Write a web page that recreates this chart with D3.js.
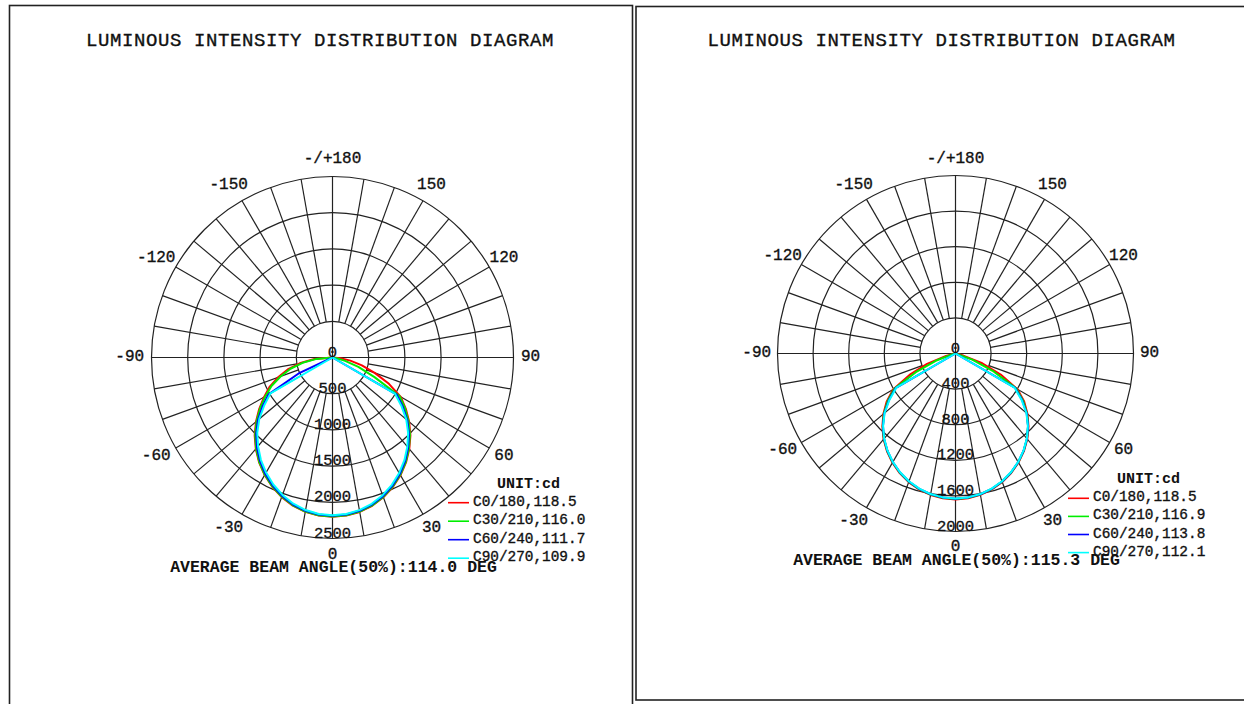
<!DOCTYPE html>
<html><head><meta charset="utf-8">
<script src="https://cdn.jsdelivr.net/npm/d3@7"></script>
<style>html,body{margin:0;padding:0;background:#fff;}svg{display:block;}</style>
</head><body>
<svg id="chart" width="1244" height="704"></svg>
<script>
// ---------- data ----------
const gammaAngles = [0,5,10,15,20,25,30,35,40,45,50,55,60,65,70,75,80,85,90];
const seriesNames = ["C0/180","C30/210","C60/240","C90/270"];
const seriesColors = ["#ff0000","#00ee00","#0000ff","#00ffff"];
const angleTickValues = [180,150,120,90,60,30,0,-30,-60,-90,-120,-150];
const angleTickLabels = ["-/+180","150","120","90","60","30","0","-30","-60","-90","-120","-150"];
const titleText = "LUMINOUS INTENSITY DISTRIBUTION DIAGRAM";
const unitText = "UNIT:cd";

// left diagram
const leftRings = [500,1000,1500,2000,2500];
const leftRingLabels = ["0","500","1000","1500","2000","2500"];
const leftBeamAngles = ["118.5","116.0","111.7","109.9"];
const leftAverage = "114.0";
const left_C0   = [2200,2192,2166,2120,2055,1973,1878,1770,1650,1522,1382,1236,1088,860,620,420,250,110,0];
const left_C180 = [2200,2192,2165,2118,2052,1970,1875,1768,1648,1520,1380,1235,1090,960,800,640,460,250,0];
const left_C30  = [2195,2188,2160,2114,2049,1967,1871,1763,1642,1512,1370,1222,1072,640,380,180,60,0,0];
const left_C210 = [2195,2187,2160,2113,2047,1965,1870,1762,1640,1510,1368,1220,1070,930,760,600,420,220,0];
const left_C60  = [2185,2177,2150,2103,2037,1955,1858,1748,1625,1493,1349,1186,1025,0,0,0,0,0,0];
const left_C240 = [2185,2177,2150,2102,2035,1952,1855,1745,1622,1490,1345,1180,1020,500,0,0,0,0,0];
const left_C90  = [2180,2170,2141,2092,2024,1940,1842,1732,1608,1478,1330,1160,995,0,0,0,0,0,0];
const left_C270 = [2180,2170,2140,2090,2020,1935,1835,1725,1600,1470,1320,1150,990,0,0,0,0,0,0];

// right diagram
const rightRings = [400,800,1200,1600,2000];
const rightRingLabels = ["0","400","800","1200","1600","2000"];
const rightBeamAngles = ["118.5","116.9","113.8","112.1"];
const rightAverage = "115.3";
const right_C0   = [1640,1633,1613,1581,1537,1481,1415,1340,1255,1160,1055,942,805,560,320,90,0,0,0];
const right_C180 = [1640,1633,1614,1582,1538,1483,1417,1342,1257,1162,1058,945,810,570,340,110,0,0,0];
const right_C30  = [1635,1628,1608,1576,1532,1477,1411,1336,1250,1154,1048,928,790,460,200,0,0,0,0];
const right_C210 = [1635,1628,1609,1577,1533,1478,1412,1337,1252,1156,1050,930,795,480,220,40,0,0,0];
const right_C60  = [1632,1625,1606,1574,1530,1475,1409,1334,1249,1153,1044,915,775,0,0,0,0,0,0];
const right_C240 = [1632,1625,1606,1574,1530,1475,1409,1334,1249,1153,1044,915,778,0,0,0,0,0,0];
const right_C90  = [1630,1623,1604,1572,1528,1473,1407,1332,1247,1150,1040,905,765,0,0,0,0,0,0];
const right_C270 = [1630,1623,1604,1572,1528,1473,1407,1332,1247,1150,1040,905,768,0,0,0,0,0,0];

// ---------- drawing ----------
const svg = d3.select("#chart");
const FONT = "'Liberation Mono','Courier New',monospace";
const rad = d => d * Math.PI / 180;
const heavy = sel => sel.attr("stroke","#111").attr("stroke-width",0.35);

// frames
svg.append("rect").attr("x",9.5).attr("y",5.5).attr("width",623).attr("height",720)
  .attr("fill","none").attr("stroke","#222").attr("stroke-width",1.6);
svg.append("rect").attr("x",636).attr("y",6.5).attr("width",640).attr("height",693.5)
  .attr("fill","none").attr("stroke","#222").attr("stroke-width",1.6);

function drawDiagram(cfg) {
  const g = svg.append("g").attr("transform", `translate(${cfg.cx},${cfg.cy})`);
  const maxV = cfg.rings[cfg.rings.length - 1];
  const r = d3.scaleLinear().domain([0, maxV]).range([0, cfg.R]);
  const px = (a, rr) => rr * Math.sin(a), py = (a, rr) => -rr * Math.cos(a);

  // title
  svg.append("text").attr("x", cfg.titleX).attr("y", cfg.titleY)
    .attr("text-anchor","middle").attr("dominant-baseline","central")
    .attr("font-family",FONT).attr("font-size",19).attr("letter-spacing",0.6)
    .attr("fill","#111").call(heavy).text(titleText);

  const grid = g.append("g").attr("fill","none").attr("stroke","#222").attr("stroke-width",1.2);
  // rings
  cfg.rings.forEach(v => grid.append("circle").attr("r", r(v)));
  // spokes every 10 degrees
  const spokeAngles = d3.range(0, 360, 10);
  spokeAngles.forEach(d => {
    const a = rad(d);
    const r0 = (d % 90 === 0) ? 0 : r(cfg.rings[0]);
    grid.append("line").attr("x1", px(a, r0)).attr("y1", py(a, r0))
      .attr("x2", px(a, cfg.R)).attr("y2", py(a, cfg.R));
  });

  // curves
  const line = d3.lineRadial().angle(d => d.a).radius(d => r(d.v)).curve(d3.curveLinear);
  cfg.series.forEach((s, i) => {
    const pts = [];
    for (let k = gammaAngles.length - 1; k >= 0; k--) pts.push({a: Math.PI + rad(gammaAngles[k]), v: s.left[k]});
    for (let k = 0; k < gammaAngles.length; k++) pts.push({a: Math.PI - rad(gammaAngles[k]), v: s.right[k]});
    g.append("path").attr("d", line(pts)).attr("fill","none")
      .attr("stroke", seriesColors[i]).attr("stroke-width", 2).attr("stroke-linejoin","round");
  });

  // intensity labels
  const ringVals = [0].concat(cfg.rings);
  ringVals.forEach((v, i) => {
    g.append("text").attr("x", 0).attr("y", r(v) - 1)
      .attr("text-anchor","middle").attr("font-family",FONT).attr("font-size",15.5)
      .attr("fill","#111").call(heavy).text(cfg.ringLabels[i]);
  });

  // angle labels
  angleTickValues.forEach((v, i) => {
    const a = Math.PI - rad(v);
    const rr = cfg.R + cfg.labelGap;
    g.append("text").attr("x", px(a, rr) + (v < 0 ? -4.8 : 0)).attr("y", py(a, rr) - 1)
      .attr("text-anchor","middle").attr("dominant-baseline","central")
      .attr("font-family",FONT).attr("font-size",16).attr("fill","#111").call(heavy)
      .text(angleTickLabels[i]);
  });

  // legend
  g.append("text").attr("x", cfg.unitX).attr("y", cfg.unitY)
    .attr("dominant-baseline","central").attr("font-family",FONT)
    .attr("font-size",15).attr("font-weight","bold").attr("fill","#111").text(unitText);
  seriesNames.forEach((n, i) => {
    const y = cfg.legY + i * cfg.legStep;
    g.append("line").attr("x1", cfg.legX).attr("x2", cfg.legX + 21).attr("y1", y).attr("y2", y)
      .attr("stroke", seriesColors[i]).attr("stroke-width", 1.6);
    g.append("text").attr("x", cfg.legX + 25).attr("y", y - 1)
      .attr("dominant-baseline","central").attr("font-family",FONT)
      .attr("font-size",14.4).attr("fill","#111").call(heavy).text(n + "," + cfg.beams[i]);
  });

  // average beam angle
  g.append("text").attr("x", 1).attr("y", cfg.avgY)
    .attr("text-anchor","middle").attr("dominant-baseline","central")
    .attr("font-family",FONT).attr("font-size",16.5).attr("font-weight","bold")
    .attr("fill","#111").text("AVERAGE BEAM ANGLE(50%):" + cfg.avg + " DEG");
}

drawDiagram({
  cx: 332.5, cy: 357.5, R: 181, labelGap: 17,
  titleX: 320, titleY: 41,
  rings: leftRings, ringLabels: leftRingLabels, beams: leftBeamAngles, avg: leftAverage,
  series: [
    {left: left_C180, right: left_C0},
    {left: left_C210, right: left_C30},
    {left: left_C240, right: left_C60},
    {left: left_C270, right: left_C90}
  ],
  unitX: 164.5, unitY: 127, legX: 115.5, legY: 145.2, legStep: 18.5, avgY: 209.5
});

drawDiagram({
  cx: 955.5, cy: 353.5, R: 178, labelGap: 16,
  titleX: 941.5, titleY: 41,
  rings: rightRings, ringLabels: rightRingLabels, beams: rightBeamAngles, avg: rightAverage,
  series: [
    {left: right_C180, right: right_C0},
    {left: right_C210, right: right_C30},
    {left: right_C240, right: right_C60},
    {left: right_C270, right: right_C90}
  ],
  unitX: 161.5, unitY: 125.5, legX: 112.5, legY: 144.8, legStep: 18.1, avgY: 206.5
});
</script>
</body></html>
